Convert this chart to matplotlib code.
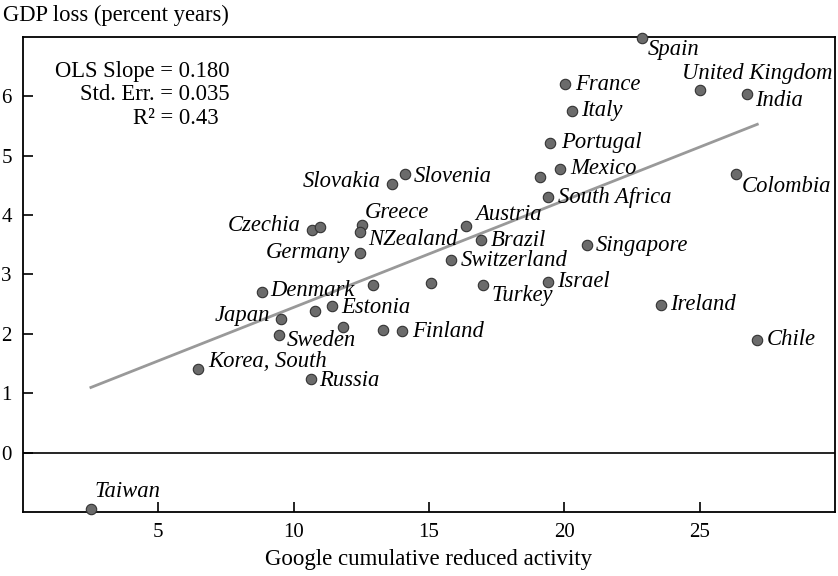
import numpy as np
import matplotlib.pyplot as plt

plt.rcParams['font.family'] = ['Liberation Serif', 'DejaVu Serif']

# country, reduced activity, GDP loss
names = ['Taiwan', 'Korea, South', 'Russia', 'Sweden', 'Japan', 'Denmark', '',
         'Estonia', '', '', '', 'Finland', 'Slovakia', 'Slovenia', 'Czechia', '',
         'Greece', 'NZealand', 'Germany', 'Austria', 'Brazil', 'Switzerland', '',
         'Turkey', 'Israel', 'Singapore', 'Ireland', 'Chile', 'South Africa',
         'Spain', 'France', 'Italy', 'Portugal', 'Mexico', '', 'United Kingdom',
         'India', 'Colombia']
activity = [2.51, 6.46, 10.63, 9.47, 9.53, 8.82, 10.80,
            11.40, 11.82, 12.94, 13.30, 13.99, 13.62, 14.10, 10.69, 10.96,
            12.53, 12.44, 12.44, 16.38, 16.94, 15.81, 15.08,
            16.98, 19.39, 20.85, 23.59, 27.13, 19.39,
            22.88, 20.01, 20.29, 19.46, 19.85, 19.09, 25.01,
            26.75, 26.34]
gdp_loss = [-0.95, 1.41, 1.24, 1.98, 2.25, 2.70, 2.39,
            2.47, 2.11, 2.83, 2.07, 2.04, 4.53, 4.69, 3.75, 3.80,
            3.83, 3.71, 3.37, 3.81, 3.58, 3.24, 2.86,
            2.82, 2.88, 3.49, 2.49, 1.90, 4.30,
            6.99, 6.20, 5.76, 5.22, 4.78, 4.65, 6.10,
            6.04, 4.70]
# label offsets in pixels (dx, dy); negative dx puts the label on the left
offsets = [(4, 18), (10, 7), (8, -2), (7, -5), (-11, 4), (9, 2), (0, 0),
           (10, -2), (0, 0), (0, 0), (0, 0), (10, 0), (-11, 2), (9, -2), (-12, 4), (0, 0),
           (3, 13), (8, -7), (-10, 0), (9, 12), (9, 0), (10, 0), (0, 0),
           (9, -10), (9, 0), (8, 0), (9, 0), (9, 0), (10, 0),
           (5, -12), (11, 0), (9, 0), (11, 0), (10, 0), (0, 0), (-18, 17),
           (8, -7), (6, -13)]

slope = 0.180
intercept = 0.646

fig = plt.figure(figsize=(8.38, 5.76), dpi=100)
ax = fig.add_axes([0.0274, 0.1111, 0.969, 0.8247])

x = np.array(activity)
y = np.array(gdp_loss)

ax.axhline(0, color='black', lw=1.2, zorder=1)
xx = np.array([x.min(), x.max()])
ax.plot(xx, intercept + slope * xx, color='#999999', lw=2, zorder=2)
ax.plot(x, y, 'o', ms=7.5, mfc='#6b6b6b', mec='#333333', mew=0.8,
        zorder=3, clip_on=False)

for n, xi, yi, (dx, dy) in zip(names, x, y, offsets):
    if not n:
        continue
    ha = 'right' if (dx < 0 and n != 'United Kingdom') else 'left'
    ax.annotate(n, (xi, yi), xytext=(dx, dy), textcoords='offset pixels',
                ha=ha, va='center', fontsize=16.3, style='italic')

ax.set_xlim(0, 30)
ax.set_ylim(-1, 7)
ax.set_xticks([5, 10, 15, 20, 25])
ax.set_yticks([0, 1, 2, 3, 4, 5, 6])
ax.tick_params(direction='in', length=7, width=1.2, labelsize=15, pad=8)
for s in ax.spines.values():
    s.set_linewidth(1.3)

ax.text(230, 576 - 72, 'OLS Slope = 0.180', transform=None, ha='right',
        va='center', fontsize=16.3)
ax.text(230, 576 - 95, 'Std. Err. = 0.035', transform=None, ha='right',
        va='center', fontsize=16.3)
ax.text(219, 576 - 118, 'R\u00b2 = 0.43', transform=None, ha='right',
        va='center', fontsize=16.3)

fig.text(0.004, 1 - 15 / 576, 'GDP loss (percent years)', ha='left',
         va='center', fontsize=16.3)
fig.text(429 / 838, 1 - 560 / 576, 'Google cumulative reduced activity',
         ha='center', va='center', fontsize=16.5)

fig.savefig('out.png', dpi=100)
